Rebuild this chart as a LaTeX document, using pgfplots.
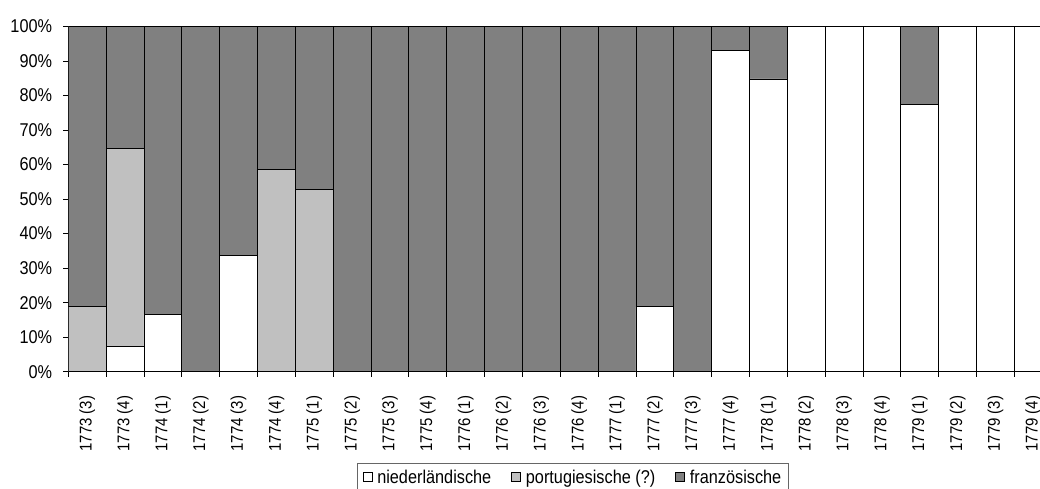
\documentclass[border=0pt]{standalone}
\usepackage{pgfplots}
\pgfplotsset{compat=1.18}
\usepackage{pgfplotstable}
\usepackage{fontspec}
\setmainfont{Liberation Sans}[FakeStretch=0.88]

\definecolor{nlcol}{HTML}{FFFFFF}
\definecolor{ptcol}{HTML}{C0C0C0}
\definecolor{frcol}{HTML}{808080}

% shares per quarter, in percent
\pgfplotstableread{
idx nl   pt   fr
0   0    18.8 81.2
1   7.2  57.5 35.3
2   16.7 0    83.3
3   0    0    100
4   33.8 0    66.2
5   0    58.7 41.3
6   0    52.8 47.2
7   0    0    100
8   0    0    100
9   0    0    100
10  0    0    100
11  0    0    100
12  0    0    100
13  0    0    100
14  0    0    100
15  18.8 0    81.2
16  0    0    100
17  93.0 0    7.0
18  84.8 0    15.2
19  100  0    0
20  100  0    0
21  100  0    0
22  77.5 0    22.5
23  100  0    0
24  100  0    0
25  100  0    0
}\shares

\begin{document}
\begin{tikzpicture}
\begin{axis}[
  at={(0,0)}, anchor=south west,
  scale only axis, width=983.9pt, height=345.2pt,
  ybar stacked, bar width=1,
  xmin=-0.5, xmax=25.5, ymin=0, ymax=100,
  axis lines*=left,
  axis line style={line width=0.8pt, black},
  xtick={0,...,25},
  xticklabels={1773 (3),1773 (4),1774 (1),1774 (2),1774 (3),1774 (4),
    1775 (1),1775 (2),1775 (3),1775 (4),1776 (1),1776 (2),1776 (3),1776 (4),
    1777 (1),1777 (2),1777 (3),1777 (4),1778 (1),1778 (2),1778 (3),1778 (4),
    1779 (1),1779 (2),1779 (3),1779 (4)},
  major x tick style={draw=none},
  minor xtick={-0.5,0.5,...,25.5},
  ytick={0,10,...,100},
  yticklabels={0\%,10\%,20\%,30\%,40\%,50\%,60\%,70\%,80\%,90\%,100\%},
  tick align=outside, major tick length=5pt, minor tick length=5pt,
  tick style={black, line width=0.8pt},
  xtick pos=bottom, ytick pos=left,
  yticklabel style={font=\fontsize{18.5}{21}\selectfont, inner xsep=0pt, xshift=-11pt},
  xticklabel style={font=\fontsize{17}{19}\selectfont, yshift=-19pt, rotate=90, anchor=east, inner xsep=0pt},
  legend columns=3,
  legend style={at={(axis description cs:0.2937,-0.2654)}, anchor=north west,
    draw=black!60, line width=0.8pt, font=\fontsize{18.5}{21}\selectfont,
    inner xsep=5pt, inner ysep=4pt,
    /tikz/every odd column/.append style={column sep=3pt},
    /tikz/every even column/.append style={column sep=18pt}},
  legend image code/.code={\draw[#1, draw=black, line width=0.6pt] (0pt,-4.5pt) rectangle (9pt,4.5pt);},
]
\addplot[fill=nlcol, draw=black, line width=0.8pt] table[x=idx, y=nl] {\shares};
\addlegendentry{niederländische}
\addplot[fill=ptcol, draw=black, line width=0.8pt] table[x=idx, y=pt] {\shares};
\addlegendentry{portugiesische (?)}
\addplot[fill=frcol, draw=black, line width=0.8pt] table[x=idx, y=fr] {\shares};
\addlegendentry{französische}
\end{axis}
\pgfresetboundingbox
\path (-68.3pt,-117.3pt) rectangle (971.7pt,371.7pt);
\end{tikzpicture}
\end{document}
